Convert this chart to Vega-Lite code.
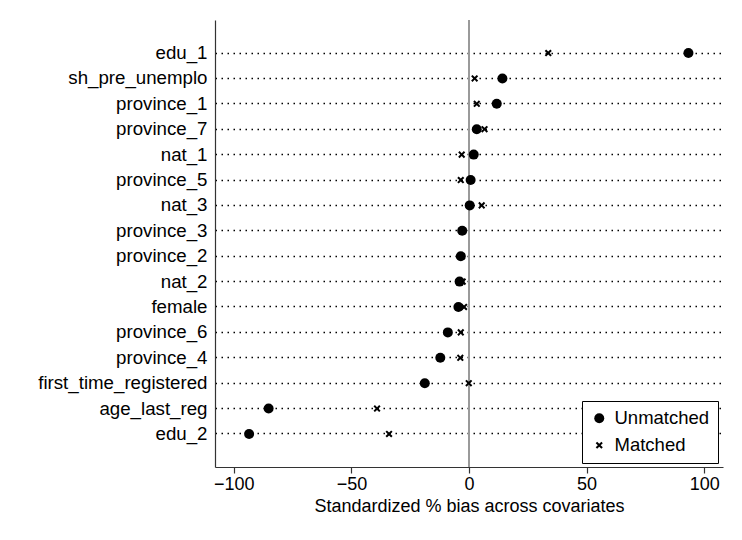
{
  "$schema": "https://vega.github.io/schema/vega-lite/v6.json",
  "autosize": {"type": "none"},
  "padding": {"left": 215, "top": 20, "right": 19, "bottom": 73},
  "width": 508,
  "height": 447,
  "background": "white",
  "config": {
    "font": "Liberation Sans",
    "view": {"stroke": null},
    "axis": {"labelColor": "black", "titleColor": "black", "labelFontSize": 18, "titleFontSize": 18, "titleFontWeight": "normal", "domainColor": "#333333", "tickColor": "#333333"}
  },
  "data": {
    "values": [
      {"variable": "edu_1", "type": "Unmatched", "bias": 93.3},
      {"variable": "edu_1", "type": "Matched", "bias": 33.7},
      {"variable": "sh_pre_unemplo", "type": "Unmatched", "bias": 14.2},
      {"variable": "sh_pre_unemplo", "type": "Matched", "bias": 2.4},
      {"variable": "province_1", "type": "Unmatched", "bias": 11.8},
      {"variable": "province_1", "type": "Matched", "bias": 3.3},
      {"variable": "province_7", "type": "Unmatched", "bias": 3.3},
      {"variable": "province_7", "type": "Matched", "bias": 6.6},
      {"variable": "nat_1", "type": "Unmatched", "bias": 2.0},
      {"variable": "nat_1", "type": "Matched", "bias": -3.1},
      {"variable": "province_5", "type": "Unmatched", "bias": 0.7},
      {"variable": "province_5", "type": "Matched", "bias": -3.5},
      {"variable": "nat_3", "type": "Unmatched", "bias": 0.3},
      {"variable": "nat_3", "type": "Matched", "bias": 5.4},
      {"variable": "province_3", "type": "Unmatched", "bias": -2.9},
      {"variable": "province_3", "type": "Matched", "bias": -2.5},
      {"variable": "province_2", "type": "Unmatched", "bias": -3.5},
      {"variable": "province_2", "type": "Matched", "bias": -3.0},
      {"variable": "nat_2", "type": "Unmatched", "bias": -4.0},
      {"variable": "nat_2", "type": "Matched", "bias": -2.7},
      {"variable": "female", "type": "Unmatched", "bias": -4.5},
      {"variable": "female", "type": "Matched", "bias": -2.1},
      {"variable": "province_6", "type": "Unmatched", "bias": -9.0},
      {"variable": "province_6", "type": "Matched", "bias": -3.5},
      {"variable": "province_4", "type": "Unmatched", "bias": -12.2},
      {"variable": "province_4", "type": "Matched", "bias": -3.7},
      {"variable": "first_time_registered", "type": "Unmatched", "bias": -18.8},
      {"variable": "first_time_registered", "type": "Matched", "bias": -0.1},
      {"variable": "age_last_reg", "type": "Unmatched", "bias": -85.2},
      {"variable": "age_last_reg", "type": "Matched", "bias": -39.1},
      {"variable": "edu_2", "type": "Unmatched", "bias": -93.5},
      {"variable": "edu_2", "type": "Matched", "bias": -34.0}
    ]
  },
  "layer": [
    {
      "mark": {"type": "rule", "color": "#9a9a9a", "strokeWidth": 1.5},
      "encoding": {"x": {"datum": 0, "type": "quantitative", "scale": {"domain": [-108, 108], "nice": false, "zero": false}}}
    },
    {
      "mark": {"type": "point", "filled": true, "color": "black", "opacity": 1, "strokeWidth": 0},
      "encoding": {
        "y": {
          "field": "variable", "type": "ordinal", "sort": null,
          "scale": {"type": "band", "paddingInner": 0, "paddingOuter": 0.8},
          "axis": {"title": null, "ticks": false, "bandPosition": 0.5, "labelPadding": 8, "labelFontSize": 18.7, "grid": true, "gridDash": [1.5, 4.5], "gridColor": "black", "gridWidth": 1.5, "domainColor": "#333333", "domainWidth": 1.2}
        },
        "x": {
          "field": "bias", "type": "quantitative",
          "scale": {"domain": [-108, 108], "nice": false, "zero": false},
          "axis": {"title": "Standardized % bias across covariates", "values": [-100, -50, 0, 50, 100], "grid": false, "tickSize": 6, "labelPadding": 2, "titlePadding": 4, "domainWidth": 1.2, "tickWidth": 1.2}
        },
        "shape": {
          "field": "type", "type": "nominal",
          "scale": {"domain": ["Unmatched", "Matched"], "range": ["circle", "M-1,-0.6L-0.6,-1L0,-0.4L0.6,-1L1,-0.6L0.4,0L1,0.6L0.6,1L0,0.4L-0.6,1L-1,0.6L-0.4,0Z"]},
          "legend": {"title": null, "orient": "none", "legendX": 367, "legendY": 381, "strokeColor": "black", "fillColor": "white", "padding": 8, "labelFontSize": 18.5, "labelColor": "black", "symbolFillColor": "black", "symbolStrokeWidth": 0, "rowPadding": 8, "labelOffset": 6, "cornerRadius": 0}
        },
        "size": {
          "field": "type", "type": "nominal",
          "scale": {"domain": ["Unmatched", "Matched"], "range": [100, 50]}
        }
      }
    }
  ]
}
